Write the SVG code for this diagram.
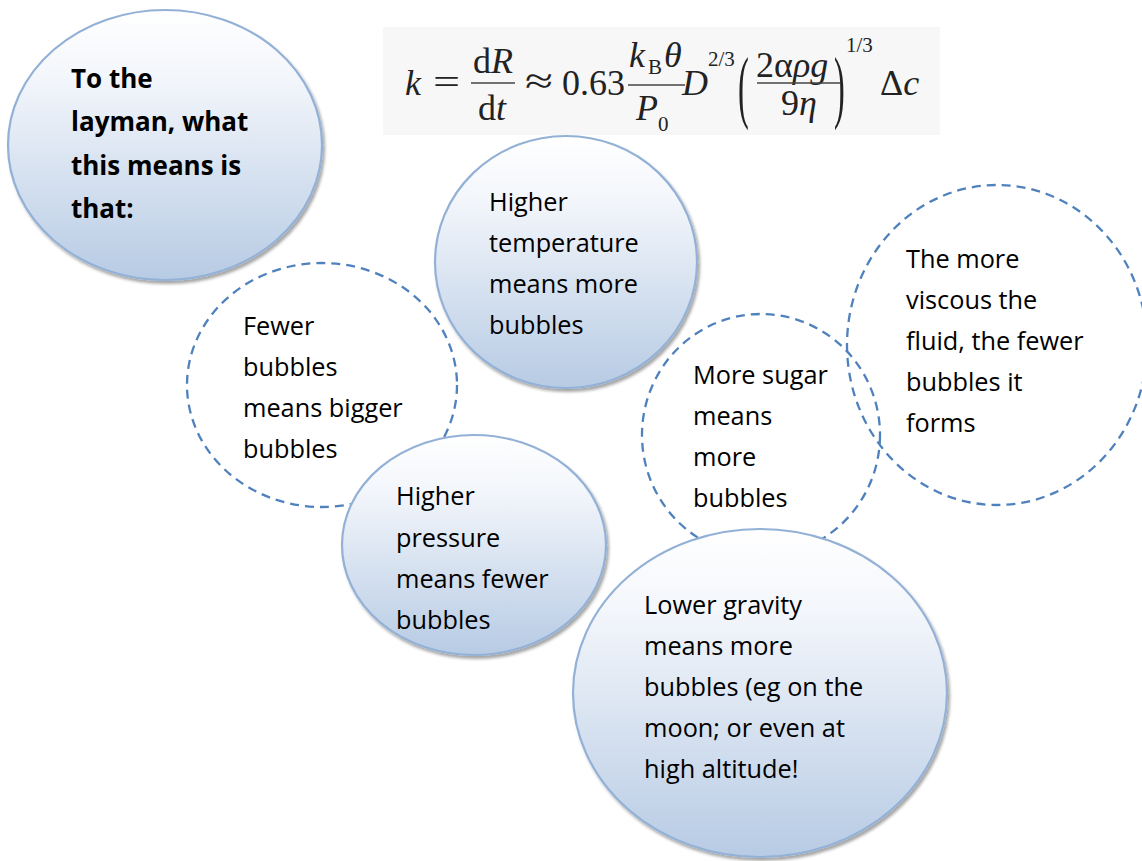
<svg xmlns="http://www.w3.org/2000/svg" width="1142" height="861" viewBox="0 0 1142 861">
<defs>
<linearGradient id="g" x1="0" y1="0" x2="0" y2="1">
<stop offset="0" stop-color="#ffffff"/>
<stop offset="0.25" stop-color="#f3f6fb"/>
<stop offset="1" stop-color="#b7cbe4"/>
</linearGradient>
<filter id="sh" x="-10%" y="-10%" width="125%" height="125%">
<feDropShadow dx="2" dy="3" stdDeviation="1.5" flood-color="#000" flood-opacity="0.35"/>
</filter>
<style>
.solid{fill:url(#g);stroke:#93b1d6;stroke-width:2.2;filter:url(#sh)}
.dash{fill:none;stroke:#4f81bd;stroke-width:2.3;stroke-dasharray:9 6}
.t{font-family:"Open Sans","Liberation Sans",sans-serif;font-size:25.3px;fill:#000}
.b{font-family:"Open Sans","Liberation Sans",sans-serif;font-size:26px;font-weight:bold;fill:#000}
.m{font-family:"Liberation Serif","Times New Roman",serif;font-size:36px;fill:#222}
.ms{font-family:"Liberation Serif","Times New Roman",serif;font-size:21px;fill:#222}
.i{font-style:italic}
.fl{stroke:#444;stroke-width:1.4}
</style>
</defs>
<rect width="1142" height="861" fill="#ffffff"/>
<g id="formula">
<rect x="383" y="27" width="557" height="108" fill="#f7f7f7"/>
<text class="m i" x="405" y="95">k</text>
<text class="m" x="433" y="94" textLength="27" lengthAdjust="spacingAndGlyphs">=</text>
<text class="m" x="473" y="73">d<tspan class="i">R</tspan></text>
<line class="fl" x1="471" y1="83" x2="515" y2="83"/>
<text class="m" x="478" y="120">d<tspan class="i">t</tspan></text>
<text class="m" x="525" y="93" textLength="28" lengthAdjust="spacingAndGlyphs">≈</text>
<text class="m" x="562" y="95">0.63</text>
<text class="m i" x="629" y="67">k</text>
<text class="ms" x="648" y="74">B</text>
<text class="m i" x="664" y="67">θ</text>
<line class="fl" x1="628" y1="85" x2="685" y2="85"/>
<text class="m i" x="636" y="120">P</text>
<text class="ms" x="658" y="131">0</text>
<text class="m i" x="682" y="95">D</text>
<text class="ms" x="708" y="66">2/3</text>
<text class="m" transform="translate(738,113) scale(0.9,2.23)">(</text>
<text class="m" x="756" y="77">2α<tspan class="i">ρg</tspan></text>
<line class="fl" x1="757" y1="83" x2="840" y2="83"/>
<text class="m" x="781" y="115">9<tspan class="i">η</tspan></text>
<text class="m" transform="translate(834,113) scale(0.9,2.23)">)</text>
<text class="ms" x="846" y="52">1/3</text>
<text class="m" x="880" y="95">Δ<tspan class="i">c</tspan></text>
</g>
<g id="node-layman">
<ellipse class="solid" cx="165" cy="145" rx="157" ry="135"/>
<text class="b" x="71" y="88">To the</text>
<text class="b" x="71" y="131">layman, what</text>
<text class="b" x="71" y="175">this means is</text>
<text class="b" x="71" y="218">that:</text>
</g>
<g id="node-fewer">
<ellipse class="dash" cx="322" cy="385" rx="135" ry="122"/>
<text class="t" x="243" y="335">Fewer</text>
<text class="t" x="243" y="376">bubbles</text>
<text class="t" x="243" y="417">means bigger</text>
<text class="t" x="243" y="458">bubbles</text>
</g>
<g id="node-temperature">
<ellipse class="solid" cx="566" cy="262" rx="131" ry="126"/>
<text class="t" x="489" y="211">Higher</text>
<text class="t" x="489" y="252">temperature</text>
<text class="t" x="489" y="293">means more</text>
<text class="t" x="489" y="334">bubbles</text>
</g>
<g id="node-pressure">
<ellipse class="solid" cx="474" cy="545" rx="132" ry="110"/>
<text class="t" x="396" y="505">Higher</text>
<text class="t" x="396" y="547">pressure</text>
<text class="t" x="396" y="588">means fewer</text>
<text class="t" x="396" y="629">bubbles</text>
</g>
<g id="node-sugar">
<ellipse class="dash" cx="761" cy="435" rx="119" ry="121"/>
<text class="t" x="693" y="384">More sugar</text>
<text class="t" x="693" y="425">means</text>
<text class="t" x="693" y="466">more</text>
<text class="t" x="693" y="507">bubbles</text>
</g>
<g id="node-viscous">
<ellipse class="dash" cx="997" cy="345" rx="150" ry="160"/>
<text class="t" x="906" y="268">The more</text>
<text class="t" x="906" y="309">viscous the</text>
<text class="t" x="906" y="350">fluid, the fewer</text>
<text class="t" x="906" y="391">bubbles it</text>
<text class="t" x="906" y="432">forms</text>
</g>
<g id="node-gravity">
<ellipse class="solid" cx="760" cy="693" rx="187" ry="164"/>
<text class="t" x="644" y="614">Lower gravity</text>
<text class="t" x="644" y="655">means more</text>
<text class="t" x="644" y="696">bubbles (eg on the</text>
<text class="t" x="644" y="737">moon; or even at</text>
<text class="t" x="644" y="778">high altitude!</text>
</g>
<g id="connectors"/>
</svg>
